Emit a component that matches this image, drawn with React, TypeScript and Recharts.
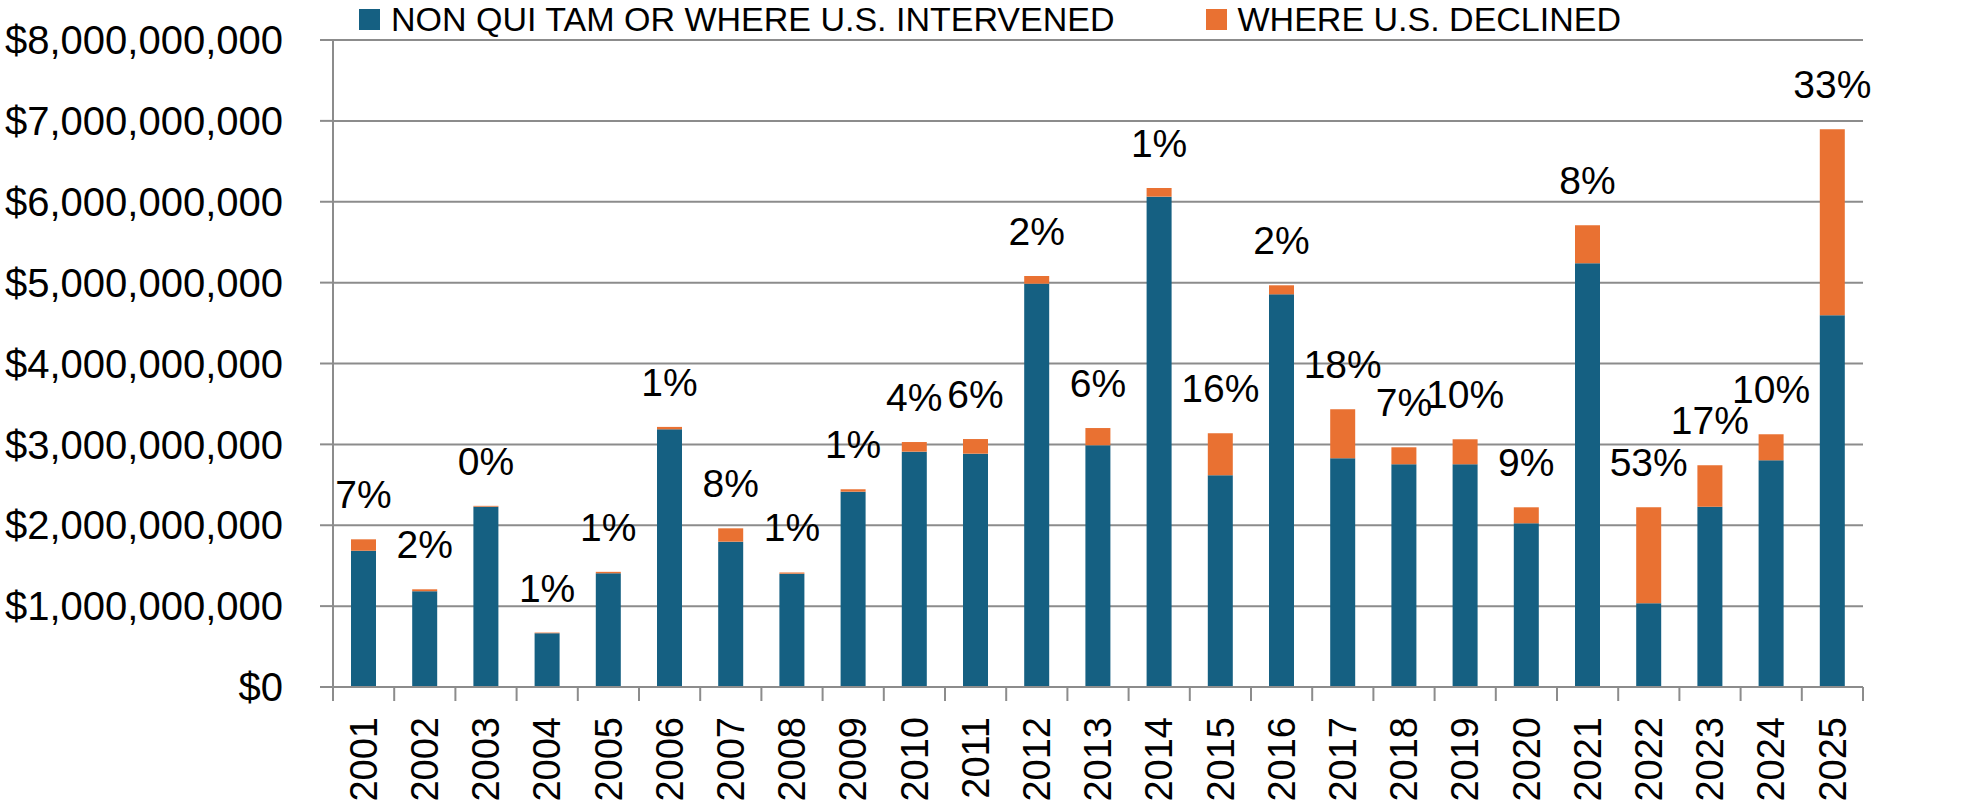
import { BarChart, Bar, XAxis, YAxis, CartesianGrid, Legend, LabelList } from "recharts";

const years = [
  "2001", "2002", "2003", "2004", "2005", "2006", "2007", "2008", "2009", "2010",
  "2011", "2012", "2013", "2014", "2015", "2016", "2017", "2018", "2019", "2020",
  "2021", "2022", "2023", "2024", "2025",
];

// NON QUI TAM OR WHERE U.S. INTERVENED
const intervened = [
  1685e6, 1184e6, 2230e6, 665e6, 1406e6, 3186e6, 1797e6, 1401e6, 2415e6, 2910e6,
  2885e6, 4987e6, 2989e6, 6063e6, 2617e6, 4855e6, 2828e6, 2754e6, 2754e6, 2024e6,
  5239e6, 1035e6, 2229e6, 2803e6, 4596e6,
];

// WHERE U.S. DECLINED
const declined = [
  141e6, 24e6, 10e6, 8e6, 18e6, 30e6, 165e6, 15e6, 30e6, 119e6,
  181e6, 95e6, 213e6, 107e6, 520e6, 112e6, 606e6, 210e6, 309e6, 198e6,
  469e6, 1187e6, 512e6, 322e6, 2300e6,
];

const declinedPct = [7, 2, 0, 1, 1, 1, 8, 1, 1, 4, 6, 2, 6, 1, 16, 2, 18, 7, 10, 9, 8, 53, 17, 10, 33];

const yTicks = [0, 1e9, 2e9, 3e9, 4e9, 5e9, 6e9, 7e9, 8e9];

const BLUE = "#156082";
const ORANGE = "#E97132";
const GRID = "#8c8c8c";
const FONT = "'Liberation Sans', Arial, sans-serif";

const data = years.map((year, i) => ({
  year,
  intervened: intervened[i],
  declined: declined[i],
  pct: declinedPct[i],
}));

const money = (v: number) => "$" + v.toLocaleString("en-US");

function YearTick(props: any) {
  const { x, y, payload, index, width, visibleTicksCount } = props;
  const half = width / visibleTicksCount / 2;
  return (
    <g>
      <line x1={x - half} y1={y} x2={x - half} y2={y + 14} stroke={GRID} strokeWidth={2} />
      {index === visibleTicksCount - 1 && (
        <line x1={x + half} y1={y} x2={x + half} y2={y + 14} stroke={GRID} strokeWidth={2} />
      )}
      <text
        x={x}
        y={y + 30}
        transform={`rotate(-90 ${x} ${y + 30})`}
        textAnchor="end"
        dy="0.35em"
        fontSize={38}
        fontFamily={FONT}
        fill="#000"
      >
        {payload.value}
      </text>
    </g>
  );
}

function LegendContent(props: any) {
  const { payload } = props;
  return (
    <div style={{ display: "flex", alignItems: "center", paddingLeft: 359, paddingTop: 1, fontFamily: FONT }}>
      {payload.map((p: any, i: number) => (
        <div key={i} style={{ display: "flex", alignItems: "center", marginRight: 91 }}>
          <div style={{ width: 21, height: 21, background: p.color, marginRight: 11 }} />
          <span style={{ fontSize: 34, lineHeight: "36px", color: "#000" }}>{p.value}</span>
        </div>
      ))}
    </div>
  );
}

export default function App() {
  return (
    <div style={{ position: "absolute", left: 0, top: 0, background: "#fff" }}>
      <BarChart
        width={1980}
        height={804}
        data={data}
        margin={{ top: 40, right: 117, bottom: 0, left: 0 }}
        barSize={25}
      >
        <CartesianGrid vertical={false} stroke={GRID} strokeWidth={2} />
        <XAxis
          dataKey="year"
          interval={0}
          height={117}
          tickLine={false}
          tickSize={0}
          tickMargin={0}
          axisLine={{ stroke: GRID, strokeWidth: 2 }}
          tick={<YearTick />}
        />
        <YAxis
          width={333}
          domain={[0, 8e9]}
          ticks={yTicks}
          tickFormatter={money}
          tickSize={13}
          tickMargin={37}
          tickLine={{ stroke: GRID, strokeWidth: 2 }}
          axisLine={{ stroke: GRID, strokeWidth: 2 }}
          tick={{ fontSize: 40, fontFamily: FONT, fill: "#000" }}
        />
        <Legend
          layout="horizontal"
          verticalAlign="middle"
          wrapperStyle={{ top: 0, left: 0, width: 1980 }}
          content={<LegendContent />}
        />
        <Bar
          dataKey="intervened"
          name="NON QUI TAM OR WHERE U.S. INTERVENED"
          stackId="a"
          fill={BLUE}
          isAnimationActive={false}
        />
        <Bar
          dataKey="declined"
          name="WHERE U.S. DECLINED"
          stackId="a"
          fill={ORANGE}
          isAnimationActive={false}
        >
          <LabelList
            dataKey="pct"
            position="top"
            offset={31}
            formatter={(v: any) => `${v}%`}
            style={{ fontSize: 39, fontFamily: FONT, fill: "#000" }}
          />
        </Bar>
      </BarChart>
    </div>
  );
}
